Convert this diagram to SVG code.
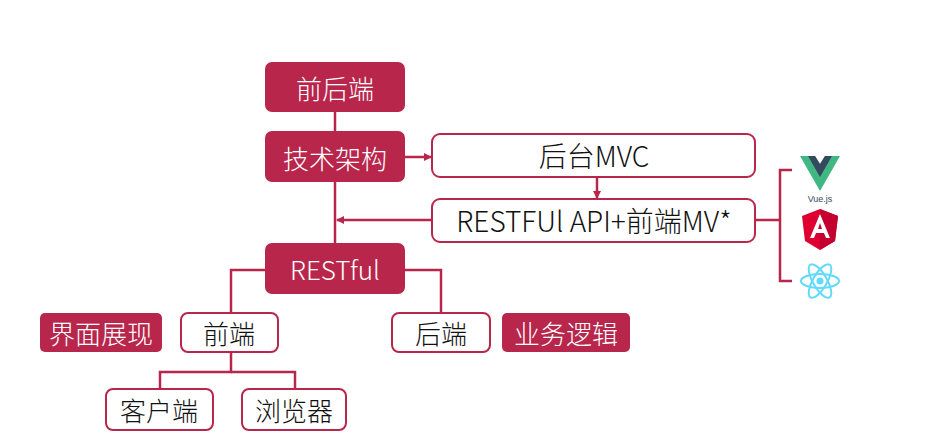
<svg xmlns="http://www.w3.org/2000/svg" width="932" height="439" viewBox="0 0 932 439">
<style>
.f{fill:#b8264c}
.w{fill:#fff;stroke:#b8264c;stroke-width:2}
.c{fill:none;stroke:#b8264c;stroke-width:2.5}
text{font-family:"Noto Sans CJK SC","Noto Sans",sans-serif;font-size:26px;font-weight:300;text-anchor:middle;dominant-baseline:central}
.tw{fill:#fff}
.tb{fill:#111}
.big{font-size:28px}
</style>
<defs>
<marker id="a" markerWidth="8" markerHeight="8" refX="7" refY="4" orient="auto" markerUnits="userSpaceOnUse"><path d="M0,0 L8,4 L0,8 Z" fill="#b8264c"/></marker>
</defs>
<rect width="932" height="439" fill="#fff"/>
<g id="connectors">
<path class="c" d="M335,112 V243"/>
<path class="c" d="M405,157 H431" marker-end="url(#a)"/>
<path class="c" d="M597,177 V198" marker-end="url(#a)"/>
<path class="c" d="M432,220 H337" marker-end="url(#a)"/>
<path class="c" d="M265,270 H231 V312"/>
<path class="c" d="M405,270 H441 V313"/>
<path class="c" d="M231,352 V372 H160 V389"/>
<path class="c" d="M231,372 H295 V389"/>
<path class="c" d="M755,220 H780 M792,170 H780 V281 H792"/>
</g>
<g id="n1"><rect class="f" x="265" y="62" width="140" height="50" rx="7"/><text class="tw" x="335" y="87">前后端</text></g>
<g id="n2"><rect class="f" x="265" y="131" width="140" height="51" rx="7"/><text class="tw" x="335" y="157">技术架构</text></g>
<g id="n3"><rect class="w" x="432" y="134" width="323" height="43" rx="8"/><text class="tb big" x="594" y="155">后台MVC</text></g>
<g id="n4"><rect class="w" x="432" y="199" width="323" height="43" rx="8"/><text class="tb big" x="594" y="220">RESTFUl API+前端MV*</text></g>
<g id="n5"><rect class="f" x="265" y="243" width="140" height="51" rx="7"/><text class="tw" x="335" y="268">RESTful</text></g>
<g id="n6"><rect class="f" x="40" y="313" width="122" height="39" rx="5"/><text class="tw" x="101" y="332">界面展现</text></g>
<g id="n7"><rect class="w" x="181" y="313" width="97" height="39" rx="7"/><text class="tb" x="229" y="332">前端</text></g>
<g id="n8"><rect class="w" x="392" y="313" width="98" height="39" rx="7"/><text class="tb" x="441" y="332">后端</text></g>
<g id="n9"><rect class="f" x="502" y="313" width="128" height="39" rx="5"/><text class="tw" x="566" y="332">业务逻辑</text></g>
<g id="n10"><rect class="w" x="106" y="389" width="107" height="41" rx="7"/><text class="tb" x="159" y="409">客户端</text></g>
<g id="n11"><rect class="w" x="242" y="389" width="104" height="41" rx="7"/><text class="tb" x="294" y="409">浏览器</text></g>
<g id="icons">
<path d="M800,156 H815 L820,164 L825,156 H840 L820,191 Z" fill="#41b883"/>
<path d="M808,156 H815 L820,164 L825,156 H832 L820,177 Z" fill="#35495e"/>
<text x="820" y="199" style="font-size:9px;font-weight:400;font-family:'Liberation Sans',sans-serif" fill="#35495e">Vue.js</text>
<path d="M820,209 L802,216 L805,241 L820,250 L835,241 L838,216 Z" fill="#dd0031"/>
<path d="M820,209 L838,216 L835,241 L820,250 Z" fill="#c3002f"/>
<path d="M820,214 L810,238 H814 L816,233 H824 L826,238 H830 Z M818,229 L820,223 L822,229 Z" fill="#fff"/>
<g fill="none" stroke="#61dafb" stroke-width="2">
<ellipse cx="820" cy="281" rx="19" ry="7"/>
<ellipse cx="820" cy="281" rx="19" ry="7" transform="rotate(60 820 281)"/>
<ellipse cx="820" cy="281" rx="19" ry="7" transform="rotate(-60 820 281)"/>
</g>
<circle cx="820" cy="281" r="3.5" fill="#61dafb"/>
</g>
</svg>
